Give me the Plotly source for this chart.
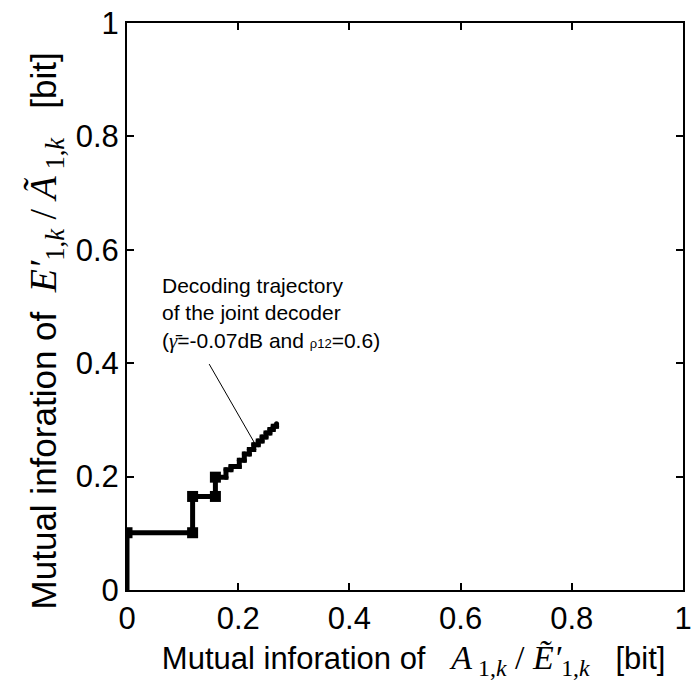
import plotly.graph_objects as go

# Decoding trajectory (staircase)
traj_x = [0.0, 0.0, 0.118, 0.118, 0.159, 0.159, 0.178, 0.178, 0.187, 0.187, 0.202, 0.202,
          0.211, 0.211, 0.220, 0.220, 0.228, 0.228, 0.236, 0.236, 0.243, 0.243, 0.250, 0.250,
          0.257, 0.257, 0.263, 0.263, 0.269, 0.269]
traj_y = [0.0, 0.101, 0.101, 0.165, 0.165, 0.199, 0.199, 0.212, 0.212, 0.218, 0.218, 0.229,
          0.229, 0.240, 0.240, 0.248, 0.248, 0.256, 0.256, 0.263, 0.263, 0.270, 0.270, 0.277,
          0.277, 0.283, 0.283, 0.289, 0.289, 0.293]
marker_x = [0.0, 0.118, 0.118, 0.159, 0.159]
marker_y = [0.101, 0.101, 0.165, 0.165, 0.199]
small_x = traj_x[6:]
small_y = traj_y[6:]

tick_vals = [0, 0.2, 0.4, 0.6, 0.8, 1]
tick_text = ["0", "0.2", "0.4", "0.6", "0.8", "1"]

FONT = "Liberation Sans, Arial, sans-serif"

fig = go.Figure()
fig.add_trace(go.Scatter(x=traj_x, y=traj_y, mode="lines",
                         line=dict(color="black", width=5), hoverinfo="skip", showlegend=False))
fig.add_trace(go.Scatter(x=small_x, y=small_y, mode="markers",
                         marker=dict(color="black", size=5, symbol="circle"),
                         hoverinfo="skip", showlegend=False))
fig.add_trace(go.Scatter(x=marker_x, y=marker_y, mode="markers",
                         marker=dict(color="black", size=11, symbol="square"),
                         hoverinfo="skip", showlegend=False))

SERX = "<span style=\"font-family:'Liberation Serif';font-size:34px\">"
SERY = "<span style=\"font-family:'Liberation Serif';font-size:38px\">"
x_title = ("&nbsp;&nbsp;Mutual inforation of&nbsp;&nbsp;&nbsp;" + SERX + "<i>A</i>"
           "<sub> 1,<i>k</i></sub> / <i>Ẽ′</i><sub>1,<i>k</i></sub></span>&nbsp;&nbsp;&nbsp;[bit]")
y_title = ("Mutual inforation of&nbsp;&nbsp;" + SERY + "<i>E′</i>"
           "<sub>1,<i>k</i></sub> / <i>Ã</i><sub> 1,<i>k</i></sub></span>&nbsp;&nbsp;&nbsp;[bit]"
           "&nbsp;&nbsp;&nbsp;&nbsp;&nbsp;")

axis_common = dict(range=[0, 1], tickvals=tick_vals, ticktext=tick_text,
                   ticks="inside", ticklen=7, tickwidth=2, tickcolor="black",
                   showline=True, linecolor="black", linewidth=2, mirror="ticks",
                   showgrid=False, zeroline=False, ticklabeloverflow="allow",
                   tickfont=dict(family=FONT, size=31, color="black"))

fig.update_layout(
    width=695, height=686,
    margin=dict(l=127, r=3, t=23, b=96),
    plot_bgcolor="white", paper_bgcolor="white",
    xaxis=dict(**axis_common, title=dict(text=x_title, font=dict(family=FONT, size=31, color="black"), standoff=12)),
    yaxis=dict(**axis_common, title=dict(text=y_title, font=dict(family=FONT, size=35, color="black"), standoff=8)),
    showlegend=False,
)

fig.add_annotation(x=0.229, y=0.260, xref="x", yref="y", text="", showarrow=True,
                   arrowhead=0, arrowwidth=1, arrowcolor="black", ax=-46, ay=-80)

ann_text = ("Decoding trajectory<br>of the joint decoder<br>"
            "(<span style=\"font-family:'Liberation Serif'\"><i>γ̄</i></span>=-0.07dB and "
            "<span style=\"font-size:13px\">ρ12</span>=0.6)")
fig.add_annotation(x=(161 - 127) / (695 - 127 - 3), y=(686 - 96 - 272) / (686 - 96 - 23),
                   xref="paper", yref="paper", xanchor="left", yanchor="top", align="left",
                   text=ann_text, showarrow=False,
                   font=dict(family=FONT, size=21, color="black"))

fig.write_html("out.html")
